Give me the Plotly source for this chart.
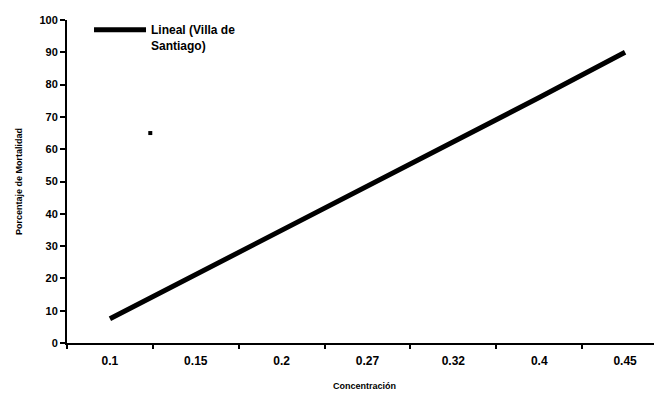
import plotly.graph_objects as go

concentracion = ["0.1", "0.15", "0.2", "0.27", "0.32", "0.4", "0.45"]
mortalidad_lineal = [7.5, 21.2, 34.5, 48.2, 62.0, 76.0, 90.0]
y_ticks = [0, 10, 20, 30, 40, 50, 60, 70, 80, 90, 100]
# small isolated mark visible in the original (position in category units)
punto_x = [0.47]
punto_y = [65]

FONT = "Liberation Sans, Arial, sans-serif"

fig = go.Figure()
fig.add_trace(go.Scatter(
    x=concentracion, y=mortalidad_lineal, mode="lines",
    name="Lineal (Villa de<br>Santiago)",
    line=dict(color="black", width=5),
))
fig.add_trace(go.Scatter(
    x=punto_x, y=punto_y, mode="markers", xaxis="x2",
    marker=dict(symbol="square", size=4, color="black"),
    showlegend=False, hoverinfo="skip",
))

fig.update_layout(
    width=654, height=386,
    margin=dict(l=59, r=0, t=12, b=51),
    paper_bgcolor="white", plot_bgcolor="white",
    font=dict(family=FONT, color="black"),
    showlegend=True,
    legend=dict(
        x=0.037, y=1.014, xanchor="left", yanchor="top",
        bgcolor="rgba(0,0,0,0)", valign="top", itemwidth=52,
        font=dict(family=FONT, size=12, color="black", weight="bold"),
    ),
    xaxis=dict(
        type="category", range=[-0.5, 6.43], automargin=False,
        showline=True, linecolor="black", linewidth=2,
        ticks="outside", tickson="boundaries", ticklen=4, tickcolor="black", tickwidth=2,
        ticklabelstandoff=6,
        showgrid=False, zeroline=False,
        tickfont=dict(family=FONT, size=12, color="black", weight="bold"),
        title=dict(text="Concentración", font=dict(family=FONT, size=9, color="black", weight="bold"), standoff=15),
    ),
    xaxis2=dict(
        overlaying="x", range=[-0.5, 6.43], visible=False, showgrid=False, zeroline=False,
    ),
    yaxis=dict(
        range=[0, 100], tickvals=y_ticks, automargin=False,
        showline=True, linecolor="black", linewidth=2,
        ticks="outside", ticklen=5, tickcolor="black", tickwidth=2,
        showgrid=False, zeroline=False,
        tickfont=dict(family=FONT, size=11, color="black", weight="bold"),
        title=dict(text="Porcentaje de Mortalidad", font=dict(family=FONT, size=9, color="black", weight="bold"), standoff=15),
    ),
)

fig.write_html("out.html")
